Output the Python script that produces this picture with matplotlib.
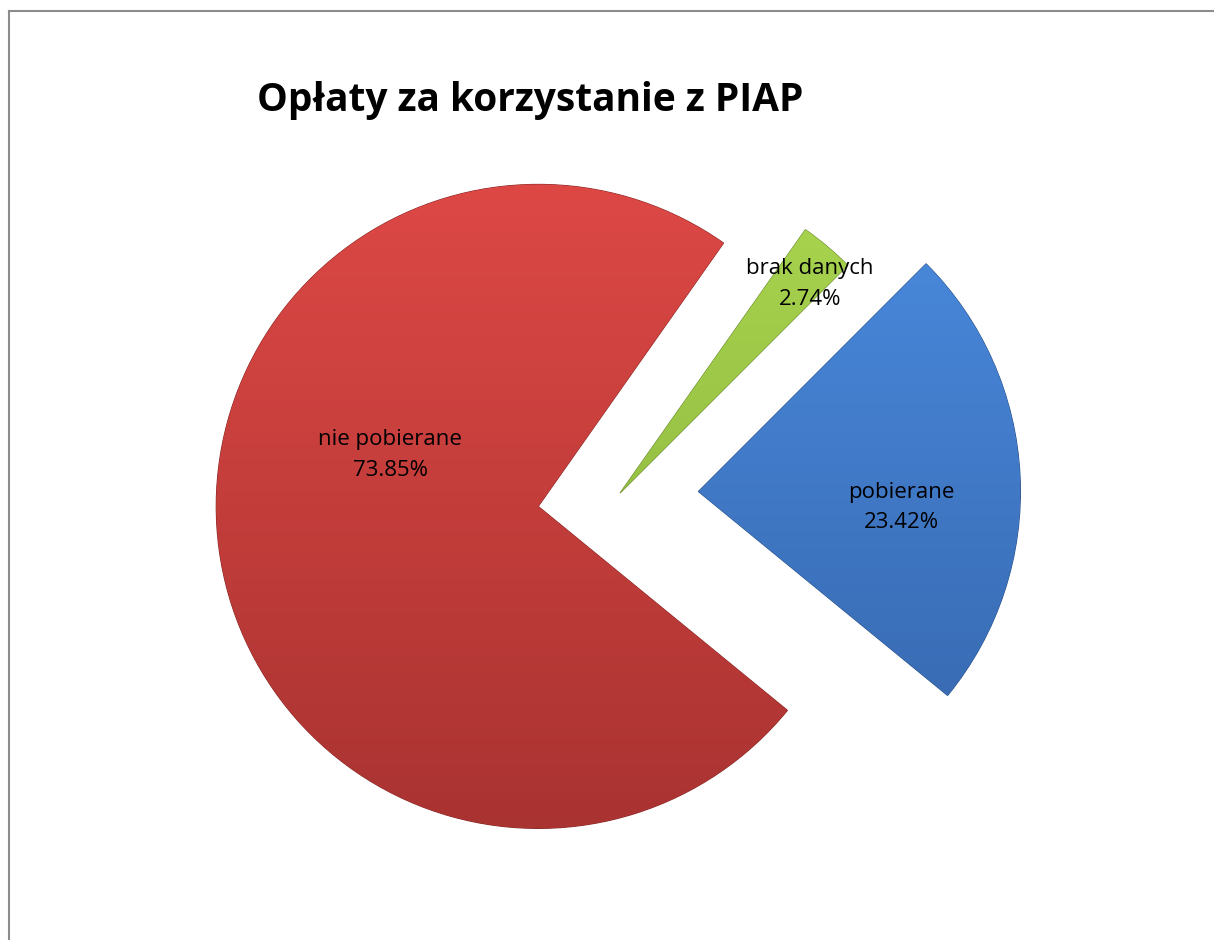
import numpy as np
import matplotlib
matplotlib.use('Agg')
import matplotlib.pyplot as plt
from matplotlib.colors import to_rgb
from matplotlib.lines import Line2D

# data (Excel order: counter-clockwise starting from the lower right)
labels = ['pobierane', 'brak danych', 'nie pobierane']
values = [23.42, 2.74, 73.85]
top_colors = ['#4B8CE0', '#AAD650', '#DD4845']
bottom_colors = ['#3565AB', '#84AC38', '#A93331']
explode_frac = [0.25, 0.01, 0.25]
# label offsets from each wedge's tip, in units of the radius
label_offsets = [(0.63, -0.05), (0.59, 0.65), (-0.46, 0.16)]

plt.rcParams['font.family'] = ['Open Sans', 'DejaVu Sans']

W, H = 1214, 940
fig = plt.figure(figsize=(W / 100, H / 100), dpi=100)
ax = fig.add_axes([0, 0, 1, 1])

R = 322
center = (618, H - 495.5)

wedges, _ = ax.pie(values, explode=[e * R for e in explode_frac], startangle=-39.3,
                   counterclock=True, radius=R, center=center,
                   colors=top_colors,
                   wedgeprops=dict(linewidth=0.8))

for w, c1, c2, lab, v, off in zip(wedges, top_colors, bottom_colors, labels, values, label_offsets):
    cx, cy = w.center
    w.set_edgecolor(tuple(0.8 * np.array(to_rgb(c2))))
    # vertical gradient clipped to the wedge
    t = np.linspace(0, 1, 256)[:, None]
    grad = (1 - t) * np.array(to_rgb(c1)) + t * np.array(to_rgb(c2))
    img = ax.imshow(grad[:, None, :], extent=(cx - R, cx + R, cy - R, cy + R),
                    origin='upper', aspect='auto', zorder=w.get_zorder() + 0.1)
    img.set_clip_path(w)
    ax.text(cx + off[0] * R, cy + off[1] * R, f'{lab}\n{v:.2f}%',
            ha='center', va='center', fontsize=16, linespacing=1.6, zorder=5)

ax.set_xlim(0, W)
ax.set_ylim(0, H)
ax.set_aspect('auto')
ax.axis('off')

ax.text(530, H - 100, 'Opłaty za korzystanie z PIAP', ha='center', va='center',
        fontsize=28, fontweight='bold')

# chart area border (only top and left are visible in the crop)
fig.add_artist(Line2D([9 / W, 9 / W], [0, 1 - 10.5 / H], color='#8c8c8c', lw=1.5))
fig.add_artist(Line2D([9 / W, 1], [1 - 10.5 / H, 1 - 10.5 / H], color='#8c8c8c', lw=1.5))

fig.savefig('out.png', dpi=100)
